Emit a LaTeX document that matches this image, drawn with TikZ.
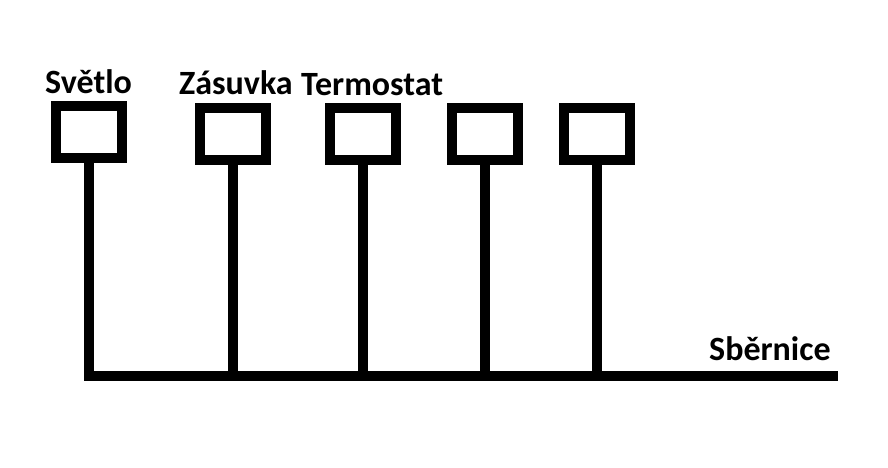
\documentclass[tikz,border=0pt]{standalone}
\usepackage{fontspec}
\setmainfont{Carlito}
\begin{document}
\begin{tikzpicture}[x=1pt,y=-1pt,
  devbox/.style={draw=black,line width=10pt,minimum width=66pt,minimum height=52pt,inner sep=0pt,outer sep=0pt,fill=white},
  wire/.style={draw=black,line width=10pt,line join=miter},
  lbl/.style={anchor=base west,inner sep=0pt,font=\fontsize{34}{37}\selectfont\bfseries}]
\useasboundingbox (0,0) rectangle (888,467);
\node[devbox] (b1) at (89,132) {};
\node[devbox] (b2) at (233,134) {};
\node[devbox] (b3) at (363,134) {};
\node[devbox] (b4) at (485,134) {};
\node[devbox] (b5) at (597,134) {};
\coordinate (busR) at (838,376);
\coordinate (busL) at (89,376);
\node[lbl] (l1) at (45,93) {Světlo};
\node[lbl] (l2) at (179,94) {Zásuvka};
\node[lbl] (l3) at (301,95) {Termostat};
\node[lbl] (l4) at (709,360) {Sběrnice};
\draw[wire] (b1.south) -- (busL) -- (busR);
\draw[wire] (b2.south) -- (b2.south |- busR);
\draw[wire] (b3.south) -- (b3.south |- busR);
\draw[wire] (b4.south) -- (b4.south |- busR);
\draw[wire] (b5.south) -- (b5.south |- busR);
\end{tikzpicture}
\end{document}
